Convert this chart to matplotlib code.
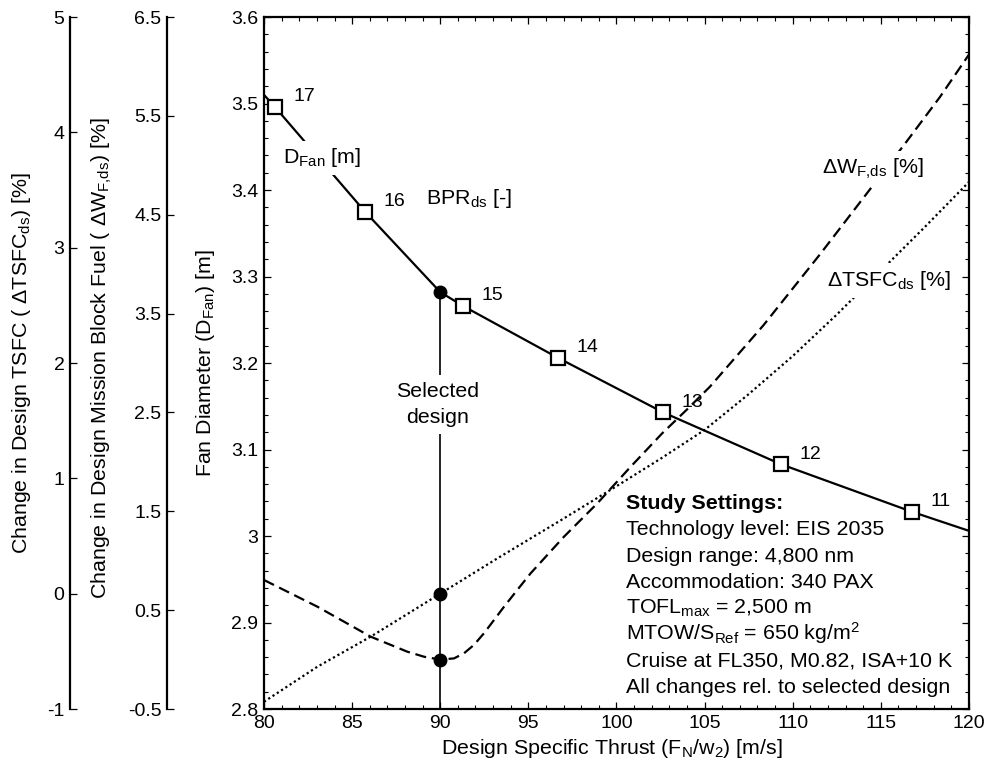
import matplotlib
matplotlib.use("Agg")
import numpy as np
import matplotlib.pyplot as plt
from matplotlib.ticker import MultipleLocator, FormatStrFormatter

plt.rcParams["font.family"] = ["Liberation Sans", "DejaVu Sans"]
plt.rcParams["font.size"] = 14
plt.rcParams["mathtext.default"] = "regular"
plt.rcParams["axes.unicode_minus"] = False

LABEL_SIZE = 15.4

# ---- data -------------------------------------------------------------
# Bypass ratio design points along the fan diameter curve
bpr_labels = [17, 16, 15, 14, 13, 12, 11]
bpr_thrust = [80.62, 85.73, 91.29, 96.68, 102.64, 109.33, 116.77]
bpr_dfan = [3.496, 3.375, 3.266, 3.206, 3.143, 3.083, 3.028]

# Fan diameter [m] versus design specific thrust [m/s]
dfan_thrust = [80.0, 80.62, 85.73, 90.0, 91.29, 96.68, 102.64, 109.33, 116.77, 120.0]
dfan = [3.51, 3.496, 3.375, 3.282, 3.266, 3.206, 3.143, 3.083, 3.028, 3.006]

# Change in design mission block fuel [%]
wf_thrust = [80.0, 83.03, 86.05, 88.13, 89.08, 90.0, 90.78, 91.35, 91.91, 92.48,
             93.05, 93.62, 94.37, 95.13, 97.02, 98.91, 100.8, 102.6, 104.0, 105.3,
             108.33, 111.55, 114.57, 116.46, 118.35, 120.0]
wf_delta = [0.805, 0.535, 0.232, 0.08, 0.029, 0.0, 0.012, 0.064, 0.148, 0.266,
            0.40, 0.535, 0.704, 0.873, 1.243, 1.58, 1.95, 2.29, 2.53, 2.76,
            3.38, 4.10, 4.80, 5.24, 5.69, 6.12]

# Change in design TSFC [%]
tsfc_thrust = [80.0, 83.03, 86.05, 90.0, 93.24, 97.02, 100.0, 102.5, 105.0,
               107.5, 110.0, 112.5, 115.0, 117.5, 120.0]
tsfc_delta = [-0.937, -0.633, -0.373, 0.0, 0.306, 0.653, 0.932, 1.17, 1.42,
              1.73, 2.06, 2.42, 2.80, 3.18, 3.57]

# Selected design
selected_thrust = 90.0
selected_dfan = 3.282
selected_wf = 0.0
selected_tsfc = 0.0

settings_title = "Study Settings:"
settings_lines = [
    "Technology level: EIS 2035",
    "Design range: 4,800 nm",
    "Accommodation: 340 PAX",
    "TOFL$_{max}$ = 2,500 m",
    "MTOW/S$_{Ref}$ = 650 kg/m$^2$",
    "Cruise at FL350, M0.82, ISA+10 K",
    "All changes rel. to selected design",
]

# ---- figure -------------------------------------------------------------
fig = plt.figure(figsize=(9.94, 7.67), dpi=100)
ax = fig.add_axes([0.2656, 0.0756, 0.7092, 0.9022])
ax_wf = ax.twinx()
ax_ts = ax.twinx()

# main axes above the twins so the fan curve sits on top
ax.set_zorder(3)
ax.patch.set_visible(False)

ax.set_xlim(80, 120)
ax.set_ylim(2.8, 3.6)
ax.xaxis.set_major_locator(MultipleLocator(5))
ax.xaxis.set_minor_locator(MultipleLocator(1))
ax.yaxis.set_major_locator(MultipleLocator(0.1))
ax.yaxis.set_minor_locator(MultipleLocator(0.02))
ax.yaxis.set_major_formatter(FormatStrFormatter("%g"))
ax.tick_params(which="both", direction="in", top=True, right=True,
               labelright=False, labeltop=False)
ax.tick_params(which="major", length=5, width=0.9, pad=4)
ax.tick_params(which="minor", length=2.8, width=0.8)
for sp in ax.spines.values():
    sp.set_linewidth(1.6)

ax_wf.set_ylim(-0.5, 6.5)
ax_wf.set_yticks(np.arange(-0.5, 7.0, 1.0))
ax_wf.yaxis.set_major_formatter(FormatStrFormatter("%g"))
ax_ts.set_ylim(-1, 5)
ax_ts.set_yticks(range(-1, 6))
ax_ts.yaxis.set_major_formatter(FormatStrFormatter("%d"))

for tw, off in ((ax_wf, 69.8), (ax_ts, 139.7)):
    for s in ("right", "top", "bottom"):
        tw.spines[s].set_visible(False)
    tw.spines["left"].set_visible(True)
    tw.spines["left"].set_position(("outward", off))
    tw.spines["left"].set_linewidth(1.6)
    tw.yaxis.set_ticks_position("left")
    tw.yaxis.set_label_position("left")
    tw.tick_params(axis="y", direction="in", length=5, width=0.9, pad=4)

# ---- curves -------------------------------------------------------------
ax.plot(dfan_thrust, dfan, color="black", lw=1.6, zorder=2)
ax.plot(bpr_thrust, bpr_dfan, ls="none", marker="s", ms=10, mfc="white",
        mec="black", mew=1.6, zorder=4)
for lab, xv, yv in zip(bpr_labels, bpr_thrust, bpr_dfan):
    ax.annotate(str(lab), (xv, yv), xytext=(13.3, 4.0), textcoords="offset points",
                ha="left", va="baseline", fontsize=14)

ax_wf.plot(wf_thrust, wf_delta, color="black", lw=1.6, ls=(0, (5, 2.6)))
ax_ts.plot(tsfc_thrust, tsfc_delta, color="black", lw=1.6, ls=(0, (1, 1.3)))

# selected design marker line and points
ax.plot([selected_thrust, selected_thrust], [2.8, selected_dfan], color="black",
        lw=1.2, zorder=2)
ax.plot([selected_thrust], [selected_dfan], "o", color="black", ms=9, zorder=4)
ax_wf.plot([selected_thrust], [selected_wf], "o", color="black", ms=9)
ax_ts.plot([selected_thrust], [selected_tsfc], "o", color="black", ms=9)

white = dict(facecolor="white", edgecolor="none", pad=5)
ax.text(89.85, 3.1610, "Selected", ha="center", va="baseline", bbox=white,
        zorder=5, fontsize=LABEL_SIZE)
ax.text(89.85, 3.1303, "design", ha="center", va="baseline", bbox=white,
        zorder=5, fontsize=LABEL_SIZE)

ax.text(81.10, 3.4309, "D$_{Fan}$ [m]", ha="left", va="baseline",
        bbox=dict(facecolor="white", edgecolor="none", pad=4), zorder=5,
        fontsize=LABEL_SIZE)
ax.text(89.19, 3.3838, "BPR$_{ds}$ [-]", ha="left", va="baseline",
        fontsize=LABEL_SIZE)
ax_wf.text(111.64, 4.919, "ΔW$_{F{,}ds}$ [%]", ha="left", va="baseline",
           bbox=dict(facecolor="white", edgecolor="none", pad=4), zorder=5,
           fontsize=LABEL_SIZE)
ax_ts.text(111.93, 2.668, "ΔTSFC$_{ds}$ [%]", ha="left", va="baseline",
           bbox=dict(facecolor="white", edgecolor="none", pad=4), zorder=5,
           fontsize=LABEL_SIZE)

# study settings block
y0, dy = 3.0312, 0.03035
ax.text(100.54, y0, settings_title, ha="left", va="baseline", fontweight="bold",
        fontsize=LABEL_SIZE)
for i, line in enumerate(settings_lines, start=1):
    ax.text(100.54, y0 - i * dy, line, ha="left", va="baseline",
            fontsize=LABEL_SIZE)

# ---- axis titles --------------------------------------------------------
fig.text(0.0221, 0.5267, "Change in Design TSFC ( ΔTSFC$_{ds}$) [%]",
         rotation=90, ha="center", va="center", fontsize=LABEL_SIZE)
fig.text(0.1026, 0.5332, "Change in Design Mission Block Fuel ( ΔW$_{F{,}ds}$) [%]",
         rotation=90, ha="center", va="center", fontsize=LABEL_SIZE)
fig.text(0.2072, 0.5267, "Fan Diameter (D$_{Fan}$) [m]",
         rotation=90, ha="center", va="center", fontsize=LABEL_SIZE)
fig.text(0.6160, 0.01695, "Design Specific Thrust (F$_N$/w$_2$) [m/s]",
         ha="center", va="baseline", fontsize=LABEL_SIZE)

fig.savefig("out.png", dpi=100, facecolor="white")
